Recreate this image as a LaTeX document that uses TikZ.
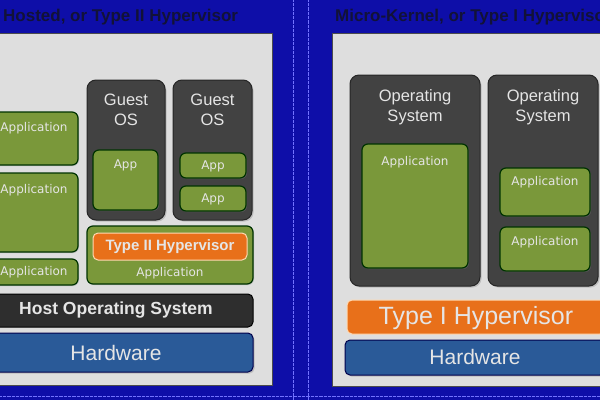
\documentclass[tikz,border=0pt]{standalone}
\usepackage{fontspec}
\setmainfont{Liberation Sans}
\newfontfamily\appfont{DejaVu Sans}
\usetikzlibrary{shadows}

\definecolor{bgblue}{RGB}{14,14,168}
\definecolor{panelgray}{RGB}{222,222,222}
\definecolor{osgray}{RGB}{66,66,66}
\definecolor{appgreen}{RGB}{122,152,58}
\definecolor{hyporange}{RGB}{232,112,26}
\definecolor{hwblue}{RGB}{42,90,152}
\definecolor{hostdark}{RGB}{46,46,46}
\definecolor{titlenavy}{RGB}{18,18,56}

\begin{document}
\begin{tikzpicture}[x=1pt,y=-1pt,
    panel/.style={fill=panelgray, draw=gray!60!black, line width=1pt},
    osbox/.style={fill=osgray, draw=black!85, line width=1pt, rounded corners=9pt,
        drop shadow={shadow xshift=1.5pt, shadow yshift=-1.5pt, opacity=0.35}},
    appbox/.style={fill=appgreen, draw=black!80!green, line width=1.2pt, rounded corners=6pt,
        drop shadow={shadow xshift=1pt, shadow yshift=-1pt, opacity=0.35}},
    hypbox/.style={fill=hyporange, draw=orange!30!white, line width=1pt, rounded corners=5pt},
    hwbox/.style={fill=hwblue, draw=blue!30!black, line width=1pt, rounded corners=5pt,
        drop shadow={shadow xshift=1.5pt, shadow yshift=-1.5pt, opacity=0.35}},
    hostbox/.style={fill=hostdark, draw=black, line width=1pt, rounded corners=5pt},
    lbl/.style={text=white!90!black, inner sep=0pt},
    applbl/.style={lbl, font=\appfont\fontsize{12}{14}\selectfont},
    oslbl/.style={lbl, align=center, font=\fontsize{16.5}{20.5}\selectfont},
    title/.style={text=titlenavy, inner sep=0pt, anchor=west, font=\bfseries\fontsize{17}{20}\selectfont}
]
\useasboundingbox (0,0) rectangle (600,400);
\clip (0,0) rectangle (600,400);

\fill[bgblue] (0,0) rectangle (600,400);
\foreach \x in {293,308}
    \draw[densely dotted, blue!55!white, line width=0.3pt] (\x,0) -- (\x,400);
\draw[densely dotted, blue!55!white, line width=0.3pt] (0,396) -- (600,396);

% titles
\node[title] (ltitle) at (3,17) {Hosted, or Type II Hypervisor};
\node[title] (rtitle) at (335,17) {Micro-Kernel, or Type I Hypervisor};

% left: hosted
\filldraw[panel] (-5,33) rectangle (272,385);

\filldraw[appbox] (-16,112) rectangle (78,165);
\node[applbl] (app1) at (34,128) {Application};
\filldraw[appbox] (-16,173) rectangle (78,252);
\node[applbl] (app2) at (34,190) {Application};
\filldraw[appbox] (-16,259) rectangle (78,285);
\node[applbl] (app3) at (34,272) {Application};

\filldraw[osbox] (87,80) rectangle (165,220);
\node[oslbl] (guest1) at (126,110) {Guest\\OS};
\filldraw[appbox] (93,150) rectangle (158,210);
\node[applbl] (gapp1) at (125.5,165) {App};

\filldraw[osbox] (173,80) rectangle (252,220);
\node[oslbl] (guest2) at (212.5,110) {Guest\\OS};
\filldraw[appbox] (180,153) rectangle (246,178);
\node[applbl] (gapp2) at (213,166) {App};
\filldraw[appbox] (180,186) rectangle (246,211);
\node[applbl] (gapp3) at (213,199) {App};

\filldraw[appbox] (87,226) rectangle (253,284);
\filldraw[hypbox] (93,233) rectangle (247,260);
\node[lbl, font=\bfseries\fontsize{15}{18}\selectfont] (hyp2) at (170,246.5) {Type II Hypervisor};
\node[applbl] (happ) at (170,273) {Application};

\filldraw[hostbox] (-21,294) rectangle (253,327);
\node[lbl, font=\bfseries\fontsize{17.5}{20}\selectfont] (hostos) at (116,310.5) {Host Operating System};

\filldraw[hwbox] (-21,333) rectangle (253,372);
\node[lbl, font=\fontsize{21}{24}\selectfont] (lhw) at (116,353) {Hardware};

% right: micro-kernel
\filldraw[panel] (332,33) rectangle (620,386);

\filldraw[osbox] (350,75) rectangle (480,286);
\node[oslbl] (os1) at (415,107) {Operating\\System};
\filldraw[appbox] (362,144) rectangle (468,268);
\node[applbl] (oapp1) at (415,162) {Application};

\filldraw[osbox] (488,75) rectangle (598,286);
\node[oslbl] (os2) at (543,107) {Operating\\System};
\filldraw[appbox] (500,168) rectangle (590,216);
\node[applbl] (oapp2) at (545,182) {Application};
\filldraw[appbox] (500,227) rectangle (590,271);
\node[applbl] (oapp3) at (545,242) {Application};

\filldraw[hypbox] (347,300) rectangle (605,334);
\node[lbl, font=\fontsize{25}{28}\selectfont] (hyp1) at (476,318) {Type I Hypervisor};

\filldraw[hwbox] (345,340) rectangle (605,375);
\node[lbl, font=\fontsize{21}{24}\selectfont] (rhw) at (475,357) {Hardware};

\end{tikzpicture}
\end{document}
